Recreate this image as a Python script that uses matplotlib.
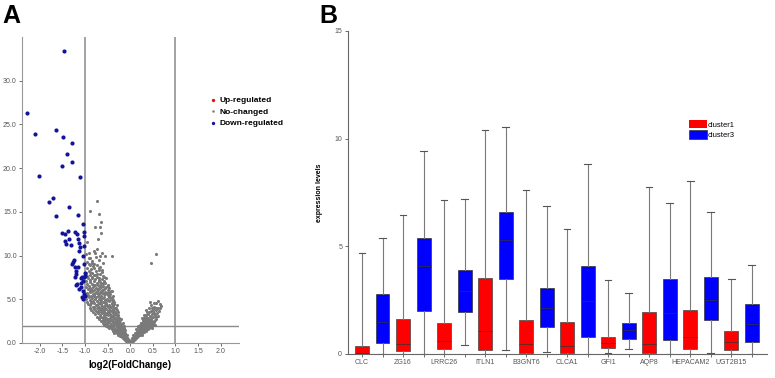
import matplotlib
matplotlib.use("Agg")
import matplotlib.pyplot as plt
from matplotlib.patches import Patch

plt.rcParams['font.family'] = ['Liberation Sans', 'DejaVu Sans']

# ---------------- Panel A data (volcano) ----------------
down_x = [-1.46, -2.29, -2.11, -1.65, -1.49, -1.29, -1.40, -1.29, -1.50, -2.02, -1.11, -1.70,
          -1.79, -1.65, -1.36, -1.15, -1.05, -1.51, -1.45, -1.38, -1.21, -1.17, -1.03, -1.02,
          -1.45, -1.42, -1.31, -1.36, -1.16, -1.14, -1.11, -1.14, -1.03, -1.04, -1.27, -1.25,
          -1.28, -1.03, -1.22, -1.16, -1.19, -1.20, -1.01, -1.22, -1.09, -1.06, -1.03, -1.01,
          -1.05, -1.17, -1.08, -1.19, -1.08, -1.14, -1.04, -1.03, -1.06, -1.05, -1.01]
down_y = [33.35, 26.27, 23.88, 24.41, 23.57, 22.89, 21.63, 20.68, 20.23, 19.09, 19.01, 16.58,
          16.11, 14.58, 15.61, 14.69, 13.58, 12.58, 12.50, 12.81, 12.70, 12.50, 12.70, 12.20,
          11.70, 11.28, 11.24, 11.85, 11.89, 11.43, 10.93, 10.55, 11.05, 9.97, 9.32, 9.44,
          9.01, 9.05, 8.67, 8.71, 8.29, 7.90, 8.02, 7.52, 7.44, 7.56, 7.60, 7.67,
          7.13, 6.75, 6.83, 6.64, 6.37, 6.14, 5.98, 5.60, 5.22, 5.02, 5.41]

gray_pts = [
    # left arm
    (-0.01,0.04),(-0.03,0.09),(-0.02,0.17),(-0.05,0.11),(-0.04,0.26),(-0.07,0.21),(-0.06,0.33),
    (-0.09,0.29),(-0.08,0.41),(-0.11,0.38),(-0.05,0.45),(-0.13,0.47),(-0.10,0.18),
    (-0.07,0.55),(-0.12,0.58),(-0.16,0.62),(-0.09,0.68),(-0.19,0.71),(-0.14,0.77),(-0.22,0.80),
    (-0.11,0.84),(-0.17,0.88),(-0.25,0.91),(-0.20,0.97),(-0.13,0.99),(-0.28,0.95),
    (-0.12,1.03),(-0.21,1.06),(-0.30,1.09),(-0.16,1.14),(-0.26,1.18),(-0.35,1.20),(-0.19,1.24),
    (-0.32,1.29),(-0.14,1.31),(-0.24,1.35),(-0.39,1.37),(-0.28,1.42),(-0.18,1.45),(-0.35,1.48),
    (-0.22,1.50),
    (-0.16,1.53),(-0.27,1.55),(-0.41,1.57),(-0.33,1.61),(-0.21,1.64),(-0.46,1.67),(-0.37,1.70),
    (-0.26,1.73),(-0.18,1.76),(-0.50,1.79),(-0.30,1.82),(-0.42,1.85),(-0.23,1.88),(-0.35,1.91),
    (-0.53,1.94),(-0.28,1.97),(-0.45,1.99),(-0.20,1.96),
    (-0.58,2.02),(-0.38,2.04),(-0.24,2.07),(-0.49,2.10),(-0.31,2.13),(-0.19,2.16),(-0.55,2.19),
    (-0.42,2.22),(-0.27,2.25),(-0.61,2.28),(-0.35,2.31),(-0.22,2.34),(-0.47,2.37),(-0.30,2.40),
    (-0.57,2.43),(-0.40,2.46),(-0.25,2.49),(-0.52,2.50),
    (-0.65,2.53),(-0.34,2.55),(-0.44,2.58),(-0.23,2.61),(-0.56,2.64),(-0.29,2.67),(-0.68,2.70),
    (-0.39,2.72),(-0.50,2.76),(-0.26,2.79),(-0.61,2.82),(-0.33,2.85),(-0.45,2.88),(-0.70,2.91),
    (-0.55,2.94),(-0.37,2.97),(-0.28,2.99),(-0.64,2.99),
    (-0.74,3.03),(-0.42,3.05),(-0.30,3.08),(-0.58,3.11),(-0.49,3.15),(-0.27,3.18),(-0.67,3.20),
    (-0.36,3.23),(-0.78,3.26),(-0.53,3.29),(-0.44,3.32),(-0.31,3.35),(-0.62,3.38),(-0.71,3.42),
    (-0.39,3.45),(-0.56,3.47),(-0.47,3.50),
    (-0.83,3.53),(-0.34,3.55),(-0.65,3.58),(-0.50,3.61),(-0.76,3.64),(-0.41,3.67),(-0.59,3.70),
    (-0.29,3.73),(-0.86,3.76),(-0.70,3.79),(-0.45,3.82),(-0.54,3.85),(-0.37,3.88),(-0.80,3.91),
    (-0.63,3.94),(-0.48,3.97),(-0.74,3.99),
    (-0.90,4.03),(-0.33,4.05),(-0.57,4.08),(-0.68,4.11),(-0.43,4.14),(-0.82,4.17),(-0.51,4.20),
    (-0.38,4.23),(-0.62,4.26),(-0.75,4.29),(-0.88,4.32),(-0.46,4.35),(-0.56,4.38),(-0.35,4.41),
    (-0.71,4.44),(-0.64,4.47),(-0.93,4.49),
    (-0.79,4.52),(-0.41,4.55),(-0.53,4.58),(-0.86,4.61),(-0.67,4.64),(-0.36,4.67),(-0.60,4.70),
    (-0.95,4.73),(-0.48,4.76),(-0.73,4.79),(-0.83,4.82),(-0.39,4.85),(-0.56,4.88),(-0.90,4.91),
    (-0.65,4.94),(-0.45,4.97),(-0.77,4.99),
    (-0.97,5.03),(-0.52,5.06),(-0.69,5.09),(-0.40,5.12),(-0.84,5.15),(-0.60,5.18),(-0.76,5.21),
    (-0.46,5.24),(-0.91,5.27),(-0.57,5.30),(-0.72,5.33),(-0.37,5.36),(-0.64,5.39),(-0.87,5.42),
    (-0.50,5.45),(-0.80,5.48),
    (-0.94,5.53),(-0.44,5.56),(-0.70,5.59),(-0.58,5.62),(-0.83,5.65),(-0.52,5.68),(-0.77,5.71),
    (-0.63,5.74),(-0.96,5.77),(-0.48,5.80),(-0.88,5.83),(-0.67,5.86),(-0.55,5.89),(-0.74,5.93),
    (-0.41,5.96),(-0.90,5.99),
    (-0.62,6.03),(-0.80,6.06),(-0.50,6.09),(-0.93,6.13),(-0.71,6.16),(-0.57,6.20),(-0.86,6.23),
    (-0.46,6.27),(-0.76,6.31),(-0.65,6.35),(-0.97,6.38),(-0.53,6.42),(-0.83,6.46),(-0.69,6.49),
    (-0.91,6.53),(-0.60,6.56),(-0.78,6.60),(-0.50,6.64),(-0.72,6.68),(-0.95,6.72),(-0.64,6.76),
    (-0.85,6.80),(-0.56,6.85),(-0.74,6.90),(-0.89,6.95),(-0.67,6.98),
    (-0.97,7.04),(-0.58,7.08),(-0.80,7.12),(-0.70,7.18),(-0.88,7.23),(-0.63,7.28),(-0.77,7.33),
    (-0.93,7.38),(-0.54,7.42),(-0.68,7.47),
    (-0.85,7.53),(-0.74,7.58),(-0.95,7.63),(-0.61,7.69),(-0.80,7.74),(-0.90,7.80),(-0.66,7.86),
    (-0.73,7.93),(-0.98,7.97),
    (-0.84,8.05),(-0.62,8.12),(-0.92,8.20),(-0.75,8.28),(-0.69,8.37),(-0.87,8.45),(-0.80,8.55),
    (-0.96,8.63),(-0.66,8.72),(-0.83,8.80),(-0.74,8.90),(-0.90,8.97),
    (-0.79,9.08),(-0.61,9.20),(-0.95,9.30),(-0.85,9.42),(-0.70,9.55),(-0.92,9.68),(-0.76,9.80),
    (-0.55,9.95),(-0.88,9.70),
    (-0.91,10.30),(-0.81,10.50),(-0.73,10.70),(-0.63,10.30),(-0.40,10.00),(-0.97,10.20),
    (-0.96,11.60),(-0.71,11.90),(-0.65,12.60),(-0.77,13.25),(-0.66,13.30),(-0.65,13.80),
    (-0.69,14.70),(-0.88,15.10),(-0.74,16.20),
    # left arm, second pass (denser core)
    (-0.03,0.35),(-0.06,0.52),(-0.10,0.75),(-0.15,0.92),(-0.08,0.88),(-0.19,1.12),(-0.23,1.27),
    (-0.12,1.20),(-0.29,1.33),(-0.33,1.52),(-0.24,1.60),(-0.38,1.77),(-0.14,1.70),(-0.29,1.90),
    (-0.48,1.93),(-0.40,2.00),(-0.52,2.27),(-0.26,2.20),(-0.36,2.42),(-0.45,2.60),(-0.60,2.61),
    (-0.31,2.77),(-0.53,2.84),(-0.66,2.97),(-0.40,3.13),(-0.34,3.40),(-0.52,3.38),(-0.61,3.52),
    (-0.72,3.60),(-0.44,3.63),(-0.32,3.95),(-0.57,3.90),(-0.67,4.05),(-0.79,4.08),(-0.48,4.22),
    (-0.41,4.50),(-0.70,4.60),(-0.58,4.72),(-0.87,4.70),(-0.51,4.93),(-0.44,5.25),(-0.66,5.20),
    (-0.80,5.35),(-0.55,5.57),(-0.93,5.40),(-0.74,5.70),(-0.47,5.75),(-0.62,5.92),(-0.84,6.00),
    (-0.55,6.32),(-0.69,6.20),(-0.90,6.30),(-0.60,6.90),(-0.80,6.66),(-0.69,7.05),(-0.84,7.40),
    (-0.59,7.55),(-0.77,7.78),(-0.90,8.10),(-0.70,8.60),(-0.85,9.20),(-0.66,9.90),(-0.78,10.30),
    (-0.92,9.00),(-0.62,8.35),(-0.50,6.55),(-0.42,5.95),(-0.38,4.95),(-0.30,4.30),(-0.27,3.55),
    (-0.21,2.75),(-0.17,2.25),(-0.14,1.95),(-0.11,1.50),(-0.18,1.32),(-0.37,2.17),(-0.47,2.73),
    (-0.57,3.24),(-0.63,3.76),(-0.73,4.38),(-0.54,4.50),(-0.36,3.65),(-0.25,2.90),
    # right arm
    (0.01,0.05),(0.03,0.12),(0.02,0.22),(0.05,0.18),(0.04,0.31),(0.07,0.27),(0.06,0.40),
    (0.09,0.36),(0.08,0.47),(0.11,0.44),
    (0.07,0.53),(0.12,0.57),(0.10,0.63),(0.15,0.66),(0.09,0.72),(0.13,0.76),(0.18,0.79),
    (0.11,0.85),(0.16,0.88),(0.21,0.92),(0.14,0.97),(0.19,0.99),
    (0.12,1.03),(0.17,1.06),(0.23,1.10),(0.15,1.14),(0.27,1.17),(0.20,1.21),(0.30,1.25),
    (0.14,1.29),(0.25,1.32),(0.33,1.36),(0.18,1.40),(0.22,1.44),(0.36,1.47),(0.28,1.50),
    (0.16,1.53),(0.24,1.56),(0.39,1.60),(0.31,1.63),(0.20,1.67),(0.35,1.70),(0.27,1.74),
    (0.42,1.77),(0.18,1.80),(0.33,1.84),(0.45,1.87),(0.23,1.90),(0.38,1.94),(0.29,1.97),
    (0.48,1.99),
    (0.21,2.03),(0.35,2.06),(0.44,2.10),(0.27,2.13),(0.51,2.16),(0.31,2.20),(0.40,2.23),
    (0.24,2.27),(0.47,2.30),(0.36,2.34),(0.53,2.37),(0.29,2.41),(0.43,2.45),(0.33,2.49),
    (0.38,2.53),(0.49,2.56),(0.28,2.60),(0.55,2.63),(0.42,2.67),(0.34,2.71),(0.46,2.76),
    (0.58,2.80),(0.31,2.85),(0.40,2.90),(0.51,2.95),
    (0.36,3.02),(0.44,3.08),(0.62,3.12),(0.55,3.18),(0.34,3.24),(0.48,3.30),(0.40,3.37),
    (0.59,3.42),(0.52,3.47),
    (0.38,3.55),(0.45,3.62),(0.64,3.70),(0.56,3.78),(0.50,3.86),(0.42,3.95),(0.61,4.05),
    (0.53,4.15),(0.47,4.30),(0.66,4.45),(0.58,4.55),(0.44,4.70),(0.62,4.80),(0.69,4.25),
    (0.56,10.20),(0.46,9.10),
    # right arm, second pass
    (0.04,0.55),(0.08,0.80),(0.06,0.95),(0.10,1.18),(0.19,1.30),(0.13,1.55),(0.26,1.60),
    (0.17,1.93),(0.37,1.80),(0.23,2.30),(0.31,2.55),(0.39,2.42),(0.47,2.62),(0.26,2.90),
    (0.45,2.98),(0.56,3.00),(0.30,3.15),(0.41,3.50),(0.50,3.62),(0.36,3.80),(0.57,3.95),
    (0.48,4.05),(0.65,4.00),(0.52,4.55),(0.55,2.10),(0.49,1.70),(0.41,2.20),(0.34,1.35),
    (0.25,0.95),(0.22,1.85),
]
gray_x = [p[0] for p in gray_pts]
gray_y = [p[1] for p in gray_pts]

up_x = []
up_y = []

a_xticks = [-2.0, -1.5, -1.0, -0.5, 0.0, 0.5, 1.0, 1.5, 2.0]
a_yticks = [0.0, 5.0, 10.0, 15.0, 20.0, 25.0, 30.0]

# ---------------- Panel B data (boxplots) ----------------
genes = ['CLC', 'ZG16', 'LRRC26', 'ITLN1', 'B3GNT6', 'CLCA1', 'GFI1', 'AQP8', 'HEPACAM2', 'UGT2B15']
c1_whislo = [0.0, 0.0, 0.0, 0.0, 0.0, 0.0, 0.05, 0.0, 0.0, 0.0]
c1_q1 = [0.0, 0.11, 0.22, 0.17, 0.02, 0.02, 0.25, 0.02, 0.20, 0.17]
c1_med = [0.03, 0.43, 0.59, 1.07, 0.45, 0.37, 0.48, 0.45, 0.79, 0.56]
c1_q3 = [0.37, 1.59, 1.44, 3.51, 1.56, 1.46, 0.76, 1.94, 2.03, 1.07]
c1_whishi = [4.70, 6.47, 7.14, 10.38, 7.63, 5.79, 3.41, 7.73, 8.02, 3.48]
c3_whislo = [0.0, 0.0, 0.42, 0.17, 0.10, 0.0, 0.20, 0.0, 0.02, 0.0]
c3_q1 = [0.50, 2.00, 1.92, 3.48, 1.25, 0.78, 0.68, 0.64, 1.56, 0.54]
c3_med = [1.49, 4.07, 2.90, 5.28, 2.14, 2.43, 1.10, 1.90, 2.49, 1.38]
c3_q3 = [2.79, 5.39, 3.90, 6.58, 3.07, 4.06, 1.44, 3.45, 3.55, 2.29]
c3_whishi = [5.39, 9.43, 7.17, 10.54, 6.87, 8.81, 2.82, 7.01, 6.60, 4.13]
b_yticks = [0, 5, 10, 15]

# ---------------- Figure ----------------
fig = plt.figure(figsize=(7.75, 3.78), dpi=100)

# Panel A
axA = fig.add_axes([0.028, 0.0926, 0.280, 0.8094])
axA.scatter(gray_x, gray_y, s=5, c='#7a7a7a', linewidths=0, label='No-changed', zorder=2)
axA.scatter(down_x, down_y, s=9, c='#14149a', linewidths=0, label='Down-regulated', zorder=3)
axA.scatter(up_x, up_y, s=9, c='#e01010', linewidths=0, label='Up-regulated', zorder=3)
axA.axvline(-1, color='#8a8a8a', lw=1.1, zorder=1)
axA.axvline(1, color='#8a8a8a', lw=1.1, zorder=1)
axA.axhline(2, color='#8a8a8a', lw=1.0, zorder=1)
axA.set_xlim(-2.4, 2.4)
axA.set_ylim(0, 35)
axA.set_xticks(a_xticks)
axA.set_xticklabels([f"{v:.1f}" for v in a_xticks])
axA.set_yticks(a_yticks)
axA.set_yticklabels([f"{v:.1f}" for v in a_yticks])
axA.tick_params(labelsize=5, colors='#555555', length=2, width=0.6, pad=1.5)
for s in ['top', 'right']:
    axA.spines[s].set_visible(False)
for s in ['left', 'bottom']:
    axA.spines[s].set_color('#999999')
    axA.spines[s].set_linewidth(0.8)
axA.set_xlabel('log2(FoldChange)', fontsize=7, fontweight='bold', labelpad=4)
h, l = axA.get_legend_handles_labels()
order = [l.index('Up-regulated'), l.index('No-changed'), l.index('Down-regulated')]
axA.legend([h[i] for i in order], [l[i] for i in order], loc='upper left',
           bbox_to_anchor=(205 / 775, 1 - 92 / 378), bbox_transform=fig.transFigure,
           frameon=False, prop={'size': 6, 'weight': 'bold'}, handletextpad=0.2,
           labelspacing=0.45, borderpad=0, handlelength=1.0, markerscale=0.8)
fig.text(2 / 775, 1 - 22.7 / 378, 'A', fontsize=18, fontweight='bold', va='baseline')

# Panel B
axB = fig.add_axes([0.4486, 0.0643, 0.5411, 0.8537])
red_stats = []
blue_stats = []
for i in range(len(genes)):
    red_stats.append(dict(whislo=c1_whislo[i], q1=c1_q1[i], med=c1_med[i], q3=c1_q3[i],
                          whishi=c1_whishi[i], fliers=[]))
    blue_stats.append(dict(whislo=c3_whislo[i], q1=c3_q1[i], med=c3_med[i], q3=c3_q3[i],
                           whishi=c3_whishi[i], fliers=[]))
red_pos = [2 * i for i in range(len(genes))]
blue_pos = [2 * i + 1 for i in range(len(genes))]
common = dict(widths=0.68, capwidths=0.33, patch_artist=True, showfliers=False,
              whiskerprops=dict(color='#7a7a7a', lw=0.8),
              capprops=dict(color='#555555', lw=0.8),
              medianprops=dict(color='#333333', lw=0.5))
axB.bxp(red_stats, positions=red_pos,
        boxprops=dict(facecolor='#ff0000', edgecolor='#444444', lw=0.5), **common)
axB.bxp(blue_stats, positions=blue_pos,
        boxprops=dict(facecolor='#0000ff', edgecolor='#333333', lw=0.5), **common)
axB.set_xlim(-0.7, 19.75)
axB.set_ylim(0, 15)
allpos = sorted(red_pos + blue_pos)
axB.set_xticks(allpos)
axB.set_xticklabels([genes[p // 2] if p % 2 == 0 else '' for p in allpos])
axB.set_yticks(b_yticks)
axB.tick_params(labelsize=5, colors='#555555', length=2, width=0.6, pad=2)
for s in ['top', 'right']:
    axB.spines[s].set_visible(False)
for s in ['left', 'bottom']:
    axB.spines[s].set_color('#666666')
    axB.spines[s].set_linewidth(0.8)
axB.set_ylabel('expression levels', fontsize=5, fontweight='bold', labelpad=8)
axB.legend([Patch(facecolor='#ff0000', edgecolor='none'), Patch(facecolor='#0000ff', edgecolor='#333333', lw=0.5)],
           ['cluster1', 'cluster3'], loc='upper left',
           bbox_to_anchor=(685 / 775, 1 - 116 / 378), bbox_transform=fig.transFigure,
           frameon=False, fontsize=5.5, handlelength=2.4, handleheight=1.3,
           handletextpad=0.1, labelspacing=0.25, borderpad=0)
fig.text(319 / 775, 1 - 22.7 / 378, 'B', fontsize=18, fontweight='bold', va='baseline')

fig.savefig('out.png', dpi=100)
